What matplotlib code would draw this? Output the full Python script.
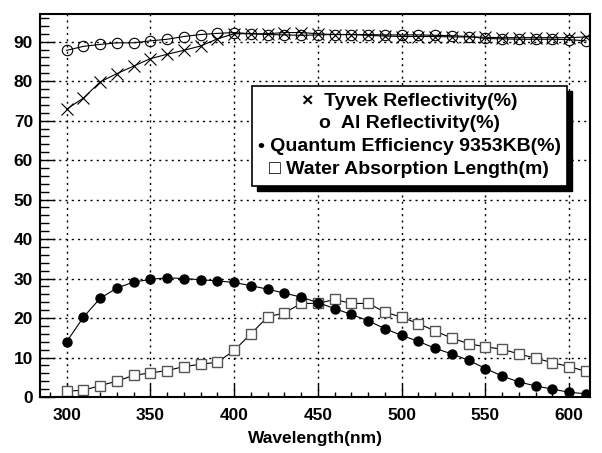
import numpy as np
import matplotlib.pyplot as plt
from matplotlib.patches import Rectangle
from matplotlib.ticker import MultipleLocator

plt.rcParams['font.family'] = ['Liberation Sans', 'DejaVu Sans']
plt.rcParams['font.weight'] = 'bold'

# wavelength grid (nm)
wavelength = np.arange(300, 620, 10)

tyvek = [72.9, 75.7, 79.8, 81.9, 83.8, 85.7, 86.8, 87.8, 88.9, 90.7,
         92.0, 92.0, 92.0, 92.3, 92.3, 92.0, 91.8, 91.8, 91.6, 91.4,
         91.3, 91.3, 91.3, 91.2, 91.2, 91.1, 91.0, 91.0, 91.0, 91.0,
         91.0, 91.2]

al = [87.8, 88.8, 89.3, 89.7, 89.7, 90.2, 90.6, 91.3, 91.8, 92.1,
      92.3, 92.0, 91.8, 91.7, 91.6, 91.7, 91.8, 91.8, 91.8, 91.7,
      91.7, 91.7, 91.6, 91.5, 91.3, 90.8, 90.7, 90.6, 90.6, 90.6,
      90.5, 90.2]

qe = [14.0, 20.2, 25.0, 27.6, 29.1, 29.8, 30.2, 30.0, 29.7, 29.4,
      29.0, 28.2, 27.3, 26.3, 25.3, 23.9, 22.4, 20.9, 19.3, 17.3,
      15.6, 14.1, 12.3, 10.9, 9.3, 7.2, 5.3, 3.8, 2.8, 2.0,
      1.2, 0.8]

water = [1.5, 1.7, 2.9, 4.0, 5.5, 6.1, 6.7, 7.7, 8.3, 8.8,
         11.8, 16.0, 20.3, 21.3, 23.7, 23.7, 24.7, 23.7, 23.7, 21.5,
         20.2, 18.6, 16.7, 14.9, 13.5, 12.7, 12.1, 10.9, 9.8, 8.7,
         7.7, 6.5]

legend_labels = ['\u00d7  Tyvek Reflectivity(%)',
                 'o  Al Reflectivity(%)',
                 '\u2022 Quantum Efficiency 9353KB(%)',
                 '\u25a1 Water Absorption Length(m)']

fig = plt.figure(figsize=(6.02, 4.53), dpi=100)
ax = fig.add_axes([40/602, 1 - 397/453, 550/602, 383/453])

ax.plot(wavelength, water, color='k', lw=0.8, marker='s', ms=7,
        mfc='white', mec='#555555', mew=1.0)
ax.plot(wavelength, qe, color='k', lw=0.8, marker='o', ms=6.5,
        mfc='k', mec='k')
ax.plot(wavelength, al, color='k', lw=0.8, marker='o', ms=7.5,
        mfc='none', mec='k', mew=0.8)
ax.plot(wavelength, tyvek, color='k', lw=0.8, marker='x', ms=8,
        mec='k', mew=0.8)

ax.set_xlim(284.1, 612.4)
ax.set_ylim(0, 97.0)
ax.xaxis.set_major_locator(MultipleLocator(50))
ax.xaxis.set_minor_locator(MultipleLocator(10))
ax.yaxis.set_major_locator(MultipleLocator(10))
ax.yaxis.set_minor_locator(MultipleLocator(2))
ax.tick_params(which='both', direction='in', top=False, right=False,
               labelsize=12.5, width=1.0)
ax.tick_params(axis='x', which='major', length=9.5, pad=8)
ax.tick_params(axis='x', which='minor', length=3.6)
ax.tick_params(axis='y', which='major', length=11, pad=5)
ax.tick_params(axis='y', which='minor', length=6.5)
for lab in ax.get_xticklabels() + ax.get_yticklabels():
    lab.set_fontweight('bold')
ax.grid(True, which='major', color='k', linestyle=(0, (1.5, 3)), lw=1.0)
for sp in ax.spines.values():
    sp.set_linewidth(1.5)

ax.set_xlabel('Wavelength(nm)', fontsize=12.5, fontweight='bold', labelpad=6)

# legend box with black drop shadow
x0, x1 = 0.385, 0.958
y0, y1 = 0.551, 0.812
dx, dy = 5 / 550, 5 / 383
ax.add_patch(Rectangle((x0 + dx, y0 - dy), x1 - x0, y1 - y0,
                       transform=ax.transAxes, facecolor='k',
                       edgecolor='k', zorder=5))
ax.add_patch(Rectangle((x0, y0), x1 - x0, y1 - y0, transform=ax.transAxes,
                       facecolor='white', edgecolor='k', lw=1.2, zorder=6))
ys = [101.7, 123.5, 146.5, 170.0]
for lab, yp in zip(legend_labels, ys):
    ax.text((x0 + x1) / 2, (397 - yp) / 383, lab, transform=ax.transAxes,
            ha='center', va='center', fontsize=14, fontweight='bold',
            zorder=7)

fig.savefig('out.png', dpi=100)
